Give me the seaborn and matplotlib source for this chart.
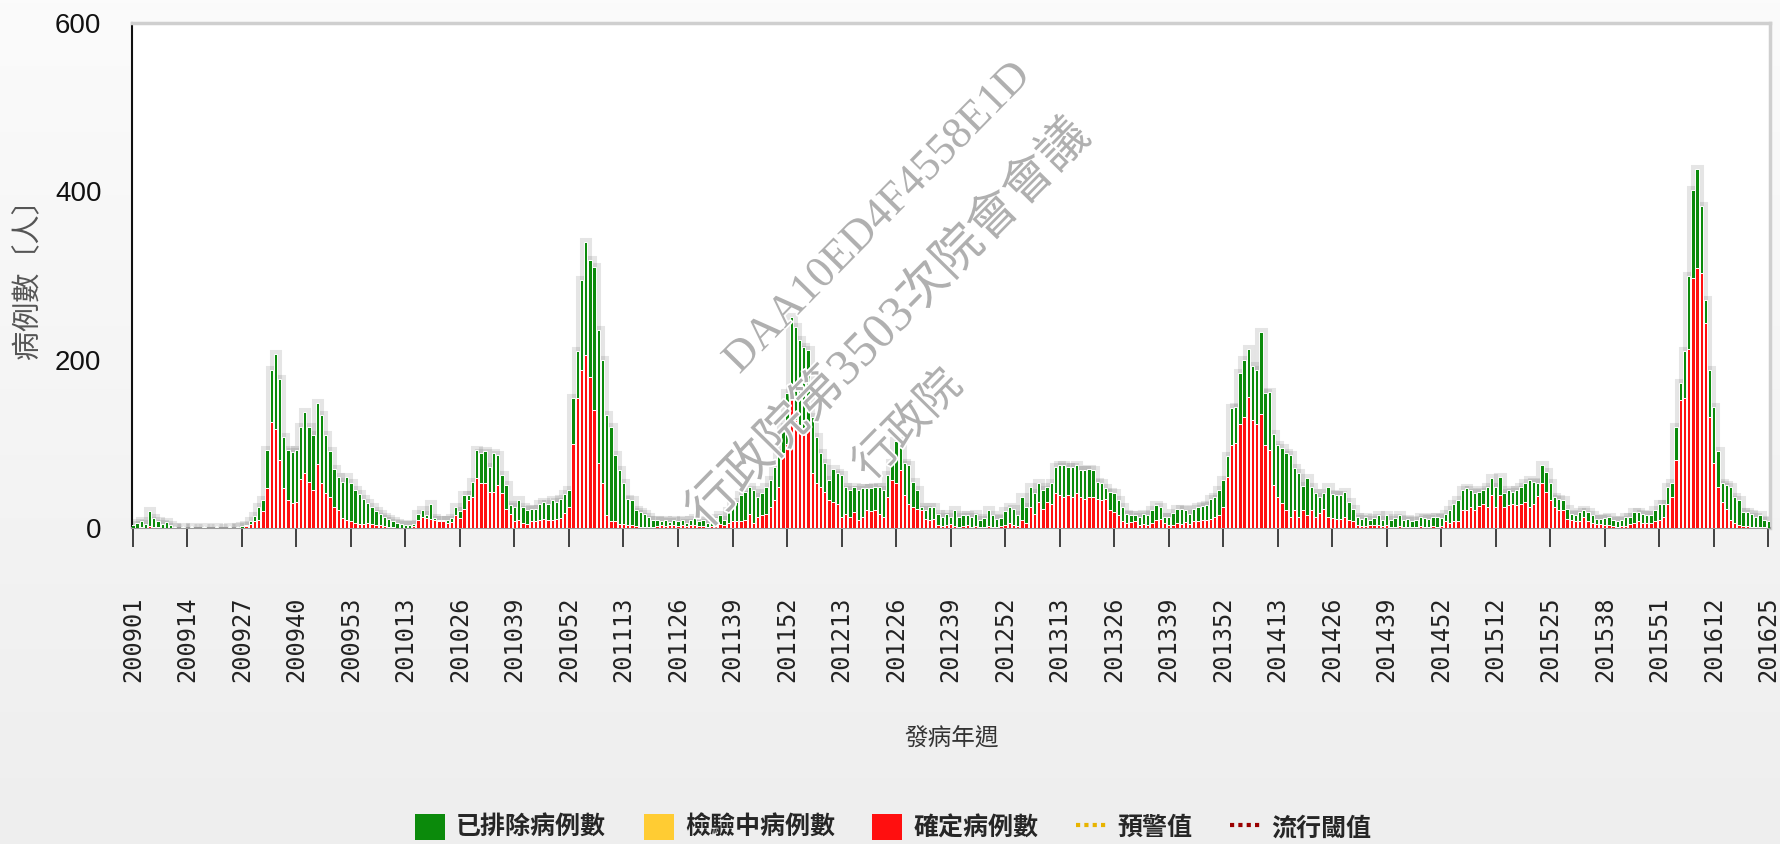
import numpy as np
import pandas as pd
import matplotlib
matplotlib.use("Agg")
import matplotlib.pyplot as plt
import seaborn as sns
from matplotlib.patches import Patch
from matplotlib.lines import Line2D
from matplotlib.colors import LinearSegmentedColormap
import matplotlib.patheffects as pe

# ---------------- data ----------------
YEAR_WEEKS = {2009: 53, 2010: 52, 2011: 52, 2012: 52, 2013: 52, 2014: 53, 2015: 52, 2016: 25}
weeks = [f"{y}{w:02d}" for y, n in YEAR_WEEKS.items() for w in range(1, n + 1)]

# total height of each stacked bar (excluded + confirmed)
total_2009 = [4, 6, 8, 5, 20, 12, 8, 5, 7, 3, 1, 0, 1, 0, 1, 0, 0, 1, 0, 0,
              1, 0, 0, 1, 0, 1, 2, 4, 8, 14, 25, 33, 93, 188, 207, 177, 108, 93, 90, 93,
              120, 138, 120, 110, 148, 134, 110, 91, 70, 61, 55, 61, 53]
total_2010 = [45, 40, 35, 30, 25, 20, 17, 13, 11, 8, 6, 5, 4, 3, 5, 17, 21, 15, 29, 12,
              10, 9, 10, 12, 25, 20, 39, 39, 55, 93, 89, 91, 73, 89, 87, 63, 51, 27, 25, 33,
              25, 21, 23, 23, 29, 31, 29, 33, 31, 35, 40, 45]
total_2011 = [154, 210, 295, 340, 318, 310, 235, 200, 134, 120, 87, 69, 53, 35, 33, 21, 19, 17, 13, 10,
              9, 8, 10, 7, 9, 8, 10, 6, 9, 12, 8, 10, 6, 8, 12, 15, 10, 20, 27, 31,
              39, 43, 49, 45, 37, 41, 49, 57, 73, 89, 120, 160]
total_2012 = [251, 239, 223, 215, 211, 132, 108, 89, 77, 57, 70, 65, 63, 49, 45, 49, 45, 47, 47, 48,
              49, 49, 45, 63, 77, 103, 101, 77, 75, 55, 45, 25, 21, 25, 25, 17, 13, 17, 13, 21,
              13, 15, 15, 13, 17, 10, 12, 21, 15, 11, 12, 20]
total_2013 = [25, 23, 15, 37, 25, 49, 41, 53, 45, 49, 53, 73, 75, 75, 73, 73, 75, 69, 69, 70,
              69, 55, 53, 47, 43, 41, 33, 25, 17, 16, 15, 13, 17, 15, 21, 27, 25, 13, 13, 18,
              23, 23, 21, 17, 23, 25, 26, 27, 35, 37, 45, 57]
total_2014 = [85, 142, 144, 184, 200, 213, 192, 188, 233, 160, 162, 112, 99, 95, 89, 87, 71, 65, 50, 60,
              49, 42, 37, 41, 49, 40, 39, 39, 43, 31, 23, 13, 11, 13, 10, 12, 15, 10, 15, 10,
              12, 15, 10, 11, 8, 10, 13, 12, 11, 13, 13, 12, 17]
total_2015 = [21, 29, 33, 45, 47, 45, 41, 43, 45, 49, 59, 49, 61, 41, 45, 43, 45, 49, 53, 57,
              55, 53, 75, 67, 53, 37, 35, 33, 23, 17, 15, 19, 21, 19, 15, 11, 11, 12, 13, 10,
              8, 10, 13, 13, 19, 19, 17, 15, 15, 21, 29, 29]
total_2016 = [49, 53, 120, 172, 210, 299, 402, 427, 382, 271, 188, 144, 91, 53, 51, 49, 37, 33, 19, 19,
              17, 13, 15, 10, 8]

confirmed_2009 = [0, 0, 1, 0, 2, 1, 1, 0, 0, 0, 0, 0, 0, 0, 0, 0, 0, 0, 0, 0,
                  0, 0, 0, 0, 0, 0, 0, 2, 5, 8, 10, 20, 47, 126, 118, 81, 47, 33, 30, 31,
                  58, 65, 55, 45, 76, 53, 42, 37, 25, 21, 12, 10, 8]
confirmed_2010 = [6, 5, 5, 6, 5, 4, 3, 2, 1, 1, 0, 0, 0, 0, 2, 10, 13, 12, 11, 10,
                  8, 8, 6, 7, 15, 12, 23, 33, 37, 59, 53, 53, 43, 43, 51, 41, 23, 17, 8, 10,
                  6, 5, 8, 8, 9, 11, 10, 10, 11, 12, 18, 25]
confirmed_2011 = [100, 155, 188, 206, 180, 140, 77, 53, 15, 8, 8, 5, 5, 3, 3, 2, 1, 1, 1, 1,
                  2, 3, 2, 3, 4, 2, 3, 2, 4, 3, 2, 2, 1, 2, 3, 5, 3, 6, 8, 8,
                  8, 10, 17, 6, 13, 15, 17, 25, 33, 49, 89, 100]
confirmed_2012 = [164, 128, 122, 118, 120, 65, 53, 49, 43, 33, 31, 29, 13, 17, 13, 19, 10, 13, 21, 20,
                  21, 17, 13, 37, 57, 53, 69, 39, 29, 25, 23, 21, 11, 10, 11, 3, 2, 3, 5, 2,
                  1, 2, 3, 1, 2, 1, 1, 2, 1, 1, 2, 4]
confirmed_2013 = [6, 3, 2, 10, 6, 25, 17, 31, 23, 31, 29, 41, 39, 37, 39, 37, 41, 37, 35, 37,
                  37, 35, 33, 35, 21, 19, 15, 8, 6, 7, 8, 4, 5, 4, 6, 10, 11, 6, 3, 4,
                  6, 5, 7, 5, 8, 8, 9, 10, 11, 13, 15, 25]
confirmed_2014 = [61, 99, 101, 124, 132, 156, 128, 124, 136, 99, 93, 51, 37, 30, 21, 13, 21, 13, 21, 15,
                  21, 13, 18, 23, 13, 12, 11, 11, 13, 10, 8, 3, 2, 2, 3, 4, 4, 2, 3, 1,
                  1, 2, 1, 1, 1, 1, 2, 1, 1, 2, 1, 2, 8]
confirmed_2015 = [6, 8, 8, 21, 21, 25, 21, 26, 29, 25, 39, 25, 39, 25, 27, 29, 27, 29, 31, 25,
                  28, 38, 53, 43, 33, 25, 21, 21, 11, 10, 8, 8, 13, 8, 6, 5, 5, 3, 3, 2,
                  1, 2, 2, 5, 6, 8, 6, 6, 6, 8, 10, 13]
confirmed_2016 = [29, 37, 81, 152, 154, 213, 297, 309, 303, 243, 132, 77, 49, 31, 23, 10, 6, 4, 2, 2,
                  1, 1, 1, 1, 0]

total_cases = (total_2009 + total_2010 + total_2011 + total_2012 + total_2013
               + total_2014 + total_2015 + total_2016)
confirmed_cases = (confirmed_2009 + confirmed_2010 + confirmed_2011 + confirmed_2012
                   + confirmed_2013 + confirmed_2014 + confirmed_2015 + confirmed_2016)
assert len(total_cases) == len(weeks) == len(confirmed_cases) == 391

tick_labels = ["200901", "200914", "200927", "200940", "200953", "201013", "201026", "201039",
               "201052", "201113", "201126", "201139", "201152", "201213", "201226", "201239",
               "201252", "201313", "201326", "201339", "201352", "201413", "201426", "201439",
               "201452", "201512", "201525", "201538", "201551", "201612", "201625"]
y_ticks = [0, 200, 400, 600]

legend_labels = ["已排除病例數", "檢驗中病例數", "確定病例數", "預警值", "流行閾值"]
x_title = "發病年週"
y_title = "病例數〔人〕"
watermark_lines = ["DAA10ED4F4558E1D", "行政院第3503次院會會議", "行政院"]

df = pd.DataFrame({"week": weeks, "total": total_cases, "confirmed": confirmed_cases})
df["excluded"] = df["total"] - df["confirmed"]

GREEN = "#0b8a0b"
RED = "#ff0f0f"
YELLOW = "#ffcc33"

# ---------------- figure ----------------
sns.set_theme(style="white")
plt.rcParams["font.family"] = ["Noto Sans CJK TC", "DejaVu Sans"]

W, H, DPI = 1781, 844, 100
fig = plt.figure(figsize=(W / DPI, H / DPI), dpi=DPI)

# background gradient
bg = fig.add_axes([0, 0, 1, 1], zorder=-10)
grad = np.linspace(0, 1, 256).reshape(-1, 1)
bg.imshow(grad, aspect="auto", cmap=LinearSegmentedColormap.from_list("bg", ["#fbfbfb", "#eeeeee"]),
          extent=[0, 1, 0, 1])
bg.set_axis_off()

x0, x1 = 132 / W, 1770 / W
y0, y1 = 1 - 528 / H, 1 - 23 / H
ax = fig.add_axes([x0, y0, x1 - x0, y1 - y0])
ax.set_facecolor("white")

# soft gray halo (shadow) behind the bars
sns.barplot(data=df, x="week", y="total", color="#5e5e5e", saturation=1, width=0.8,
            edgecolor="#5e5e5e", linewidth=6.5, alpha=0.16, errorbar=None, ax=ax, zorder=1)
# excluded cases stacked on top of confirmed -> draw full height in green
sns.barplot(data=df, x="week", y="total", color=GREEN, saturation=1, width=0.8,
            edgecolor="white", linewidth=0.7, errorbar=None, ax=ax, zorder=3)
# confirmed cases
sns.barplot(data=df, x="week", y="confirmed", color=RED, saturation=1, width=0.8,
            edgecolor="white", linewidth=0.7, errorbar=None, ax=ax, zorder=4)

ax.set_xlim(-0.2, 390.4)
ax.set_ylim(0, 600)
ax.set_yticks(y_ticks)
ax.set_yticklabels([str(v) for v in y_ticks])
tick_pos = [weeks.index(t) for t in tick_labels]
ax.set_xticks(tick_pos)
ax.set_xticklabels(tick_labels, rotation=90, family=["DejaVu Sans Mono"], fontsize=17, color="#222222")
for lab in ax.get_yticklabels():
    lab.set_family(["Liberation Sans Narrow", "Liberation Sans"])
    lab.set_fontsize(20)
    lab.set_color("#111111")

ax.tick_params(axis="x", direction="out", length=14, width=1.1, color="#111111", pad=35, bottom=True)
ax.tick_params(axis="y", length=0, pad=22)

for s in ["top", "right"]:
    ax.spines[s].set_color("#cfcfcf")
    ax.spines[s].set_linewidth(2.5)
ax.spines["left"].set_color("#111111")
ax.spines["left"].set_linewidth(1.5)
ax.spines["bottom"].set_color("#9a9a9a")
ax.spines["bottom"].set_linewidth(1.5)

ax.set_xlabel(x_title, fontsize=17, color="#333333")
ax.xaxis.set_label_coords((952 - 132) / 1638, (528 - 727) / 505)
ax.set_ylabel(y_title, fontsize=21, color="#555555")
ax.yaxis.set_label_coords((42 - 132) / 1638, (528 - 272) / 505)

# legend
handles = [Patch(facecolor=GREEN, edgecolor="none"),
           Patch(facecolor=YELLOW, edgecolor="none"),
           Patch(facecolor=RED, edgecolor="none"),
           Line2D([0], [0], color="#e8b400", lw=3, linestyle=(0, (1, 1))),
           Line2D([0], [0], color="#9a0000", lw=3, linestyle=(0, (1, 1)))]
fig.legend(handles, legend_labels, ncol=5, loc="center", bbox_to_anchor=(893 / W, 1 - 827 / H),
           frameon=False, prop={"family": ["Noto Sans CJK TC"], "weight": "bold", "size": 18},
           handlelength=1.2, handleheight=1.2, handletextpad=0.45, columnspacing=1.5)

# watermark
wm_kw = dict(rotation=45.5, rotation_mode="anchor", ha="center", va="center", color="#b0b0b0",
             zorder=20, path_effects=[pe.withStroke(linewidth=2.5, foreground="white")])
fig.text(878 / W, 1 - 218 / H, watermark_lines[0], family=["Liberation Serif"], fontsize=32, **wm_kw)
fig.text(890 / W, 1 - 325 / H, watermark_lines[1], family=["Liberation Serif", "Noto Sans CJK TC"],
         fontsize=36, **wm_kw)
fig.text(908 / W, 1 - 425 / H, watermark_lines[2], family=["Noto Sans CJK TC"], fontsize=32, **wm_kw)

fig.savefig("out.png", dpi=DPI)
